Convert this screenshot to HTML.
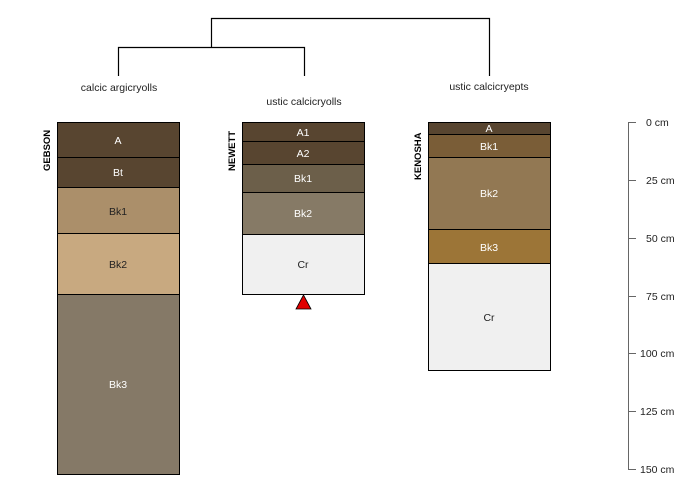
<!DOCTYPE html>
<html><head><meta charset="utf-8"><style>body{margin:0;background:#fff}svg{display:block}</style></head>
<body>
<svg width="700" height="500" xmlns="http://www.w3.org/2000/svg" font-family="Liberation Sans, sans-serif">
<g stroke="#000" stroke-width="1.2" fill="none">
<path d="M211.5 47V18.5H489.5V76"/>
<path d="M118.5 76V47.5H304.5V76"/>
</g>
<g font-size="10.5" fill="#222" text-anchor="middle">
<text x="119" y="91">calcic argicryolls</text>
<text x="304" y="105">ustic calcicryolls</text>
<text x="489" y="90">ustic calcicryepts</text>
</g>
<g stroke="#000" stroke-width="1">
<rect x="57.5" y="122.5" width="122" height="35" fill="#584530"/>
<rect x="57.5" y="157.5" width="122" height="30" fill="#584530"/>
<rect x="57.5" y="187.5" width="122" height="46" fill="#ab8f6a"/>
<rect x="57.5" y="233.5" width="122" height="61" fill="#c8a980"/>
<rect x="57.5" y="294.5" width="122" height="180" fill="#857967"/>
<rect x="242.5" y="122.5" width="122" height="19" fill="#584530"/>
<rect x="242.5" y="141.5" width="122" height="23" fill="#584530"/>
<rect x="242.5" y="164.5" width="122" height="28" fill="#6c5f4a"/>
<rect x="242.5" y="192.5" width="122" height="42" fill="#867a66"/>
<rect x="242.5" y="234.5" width="122" height="60" fill="#f0f0f0"/>
<rect x="428.5" y="122.5" width="122" height="12" fill="#584530"/>
<rect x="428.5" y="134.5" width="122" height="23" fill="#7a5d37"/>
<rect x="428.5" y="157.5" width="122" height="72" fill="#927853"/>
<rect x="428.5" y="229.5" width="122" height="34" fill="#9c7537"/>
<rect x="428.5" y="263.5" width="122" height="107" fill="#f0f0f0"/>
</g>
<polygon points="303.5,295 296,309 311,309" fill="#e00000" stroke="#000" stroke-width="0.8"/>
<g font-size="10.5" text-anchor="middle" fill="#fff">
<text x="118" y="144">A</text><text x="118" y="176">Bt</text>
<text x="118" y="215" fill="#222">Bk1</text><text x="118" y="268" fill="#222">Bk2</text>
<text x="118" y="388">Bk3</text>
<text x="303" y="136">A1</text><text x="303" y="157">A2</text>
<text x="303" y="182">Bk1</text><text x="303" y="217">Bk2</text>
<text x="303" y="268" fill="#222">Cr</text>
<text x="489" y="132">A</text><text x="489" y="150">Bk1</text>
<text x="489" y="197">Bk2</text><text x="489" y="251">Bk3</text>
<text x="489" y="321" fill="#222">Cr</text>
</g>
<g font-size="9.5" font-weight="bold" fill="#000">
<text transform="translate(50,171) rotate(-90)">GEBSON</text>
<text transform="translate(235,171) rotate(-90)">NEWETT</text>
<text transform="translate(421,180) rotate(-90)">KENOSHA</text>
</g>
<g stroke="#666" stroke-width="1">
<line x1="628.5" y1="122" x2="628.5" y2="469"/>
<line x1="628" y1="122.5" x2="636" y2="122.5"/>
<line x1="628" y1="180.5" x2="636" y2="180.5"/>
<line x1="628" y1="238.5" x2="636" y2="238.5"/>
<line x1="628" y1="296.5" x2="636" y2="296.5"/>
<line x1="628" y1="353.5" x2="636" y2="353.5"/>
<line x1="628" y1="411.5" x2="636" y2="411.5"/>
<line x1="628" y1="469.5" x2="636" y2="469.5"/>
</g>
<g font-size="10.5" fill="#222">
<text x="646" y="126">0 cm</text>
<text x="646" y="184">25 cm</text>
<text x="646" y="242">50 cm</text>
<text x="646" y="300">75 cm</text>
<text x="640" y="357">100 cm</text>
<text x="640" y="415">125 cm</text>
<text x="640" y="473">150 cm</text>
</g>
</svg>
</body></html>
